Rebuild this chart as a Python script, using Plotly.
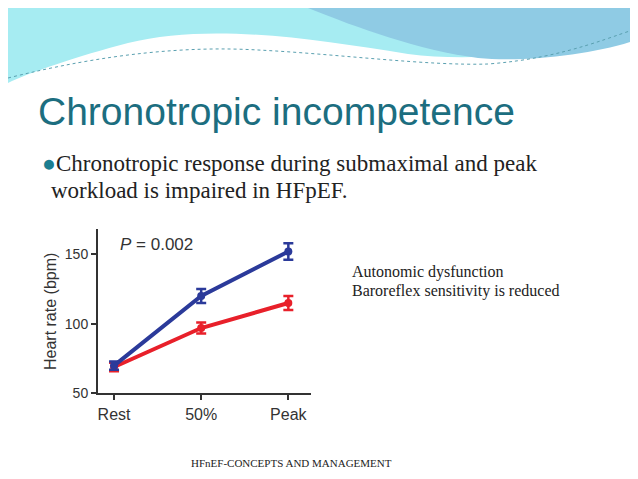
import plotly.graph_objects as go

W, H = 638, 479
categories = ["Rest", "50%", "Peak"]
hfpef = [70, 120, 152]
hfpef_err = [3, 5, 6]
control = [69, 97, 115]
control_err = [3, 4, 5]
yticks = [50, 100, 150]

def py(p):
    return 1 - p / H
def px(p):
    return p / W

fig = go.Figure()
xs = [0, 1, 2]
for vals, err, col in [(control, control_err, "#e8202a"), (hfpef, hfpef_err, "#2b3a9a")]:
    fig.add_trace(go.Scatter(x=xs, y=vals, mode="lines+markers",
        line=dict(color=col, width=4), marker=dict(color=col, size=8),
        error_y=dict(type="data", array=err, color=col, thickness=2.5, width=5),
        showlegend=False))

fig.update_layout(
    width=W, height=H, margin=dict(l=0, r=0, t=0, b=0),
    paper_bgcolor="white", plot_bgcolor="white",
    xaxis=dict(domain=[px(90), px(303)], range=[-0.184, 2.26],
               tickvals=xs, ticktext=categories, showgrid=False, zeroline=False,
               showline=True, linecolor="#333", linewidth=2, ticks="outside",
               ticklen=5, tickwidth=2, tickcolor="#333",
               tickfont=dict(family="Liberation Sans", size=16, color="#333")),
    yaxis=dict(domain=[py(392), py(225)], range=[50, 168], tickvals=yticks,
               showgrid=False, zeroline=False, showline=True, linecolor="#333",
               linewidth=2, ticks="outside", ticklen=5, tickwidth=2, tickcolor="#333",
               tickfont=dict(family="Liberation Sans", size=14, color="#333"),
               title=dict(text="Heart rate (bpm)", standoff=4,
                          font=dict(family="Liberation Sans", size=16, color="#333"))),
)

paths = [
    ("M0,0 L638,0 L638,20 C560,45 470,55 400,46 C300,30 200,15 120,35 C70,48 20,65 0,75 Z", "#a6ecf2", None),
    ("M300,0 L638,0 L638,28 C600,45 520,55 470,50 C410,42 350,20 300,0 Z", "#8fcbe4", None),
    ("M0,70 C100,45 180,38 250,42 C330,46 420,58 480,56 C560,50 610,25 638,18", None, dict(color="#5aa0b0", width=1, dash="dot")),
]
for p, fill, line in paths:
    fig.add_shape(type="path", xref="paper", yref="paper", xsizemode="pixel", ysizemode="pixel",
                  xanchor=0, yanchor=1, path=p.replace(",", ",-"),
                  fillcolor=fill, line=line if line else dict(width=0), layer="below")

def txt(x, y, t, size, color="#222", family="Liberation Serif", xanchor="left"):
    fig.add_annotation(x=px(x), y=py(y), xref="paper", yref="paper", text=t, showarrow=False,
                       xanchor=xanchor, yanchor="middle", borderpad=0,
                       font=dict(family=family, size=size, color=color))

txt(29, 105, "Chronotropic incompetence", 39, "#1c6e80", "Liberation Sans")
txt(33, 158, "<span style='color:#1c7e90'>●</span>Chronotropic response during submaximal and peak", 23)
txt(42, 186, "workload is impaired in HFpEF.", 23)
txt(343, 268, "Autonomic dysfunction", 16)
txt(343, 288, "Baroreflex sensitivity is reduced", 16)
txt(283, 463, "HFnEF-CONCEPTS AND MANAGEMENT", 11, xanchor="center")
txt(111, 241, "<i>P</i> = 0.002", 17, "#333", "Liberation Sans")

fig.write_html("out.html")
